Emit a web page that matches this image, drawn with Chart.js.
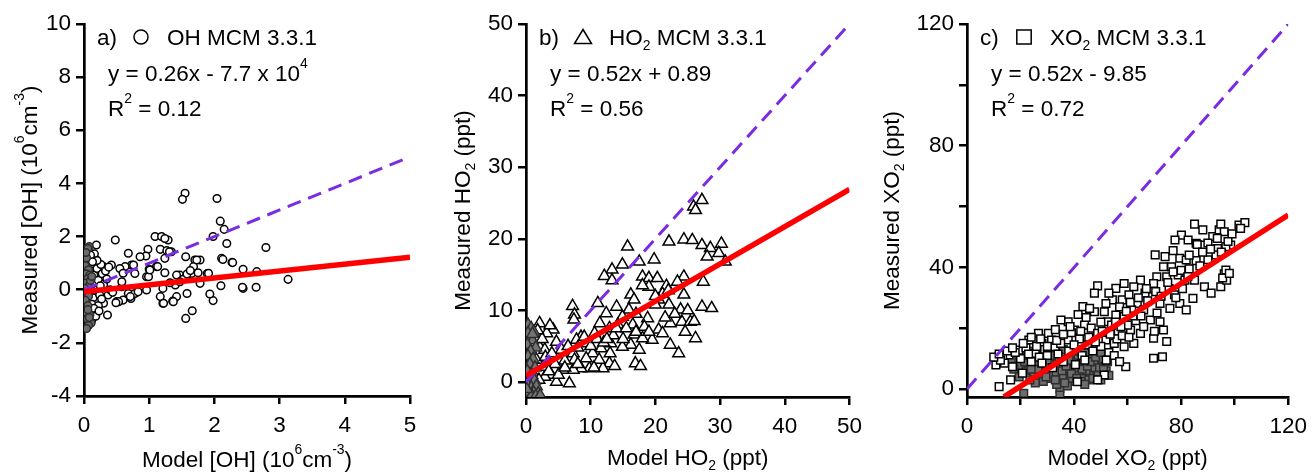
<!DOCTYPE html>
<html>
<head>
<meta charset="utf-8">
<script src="https://cdn.jsdelivr.net/npm/chart.js@4.4.0/dist/chart.umd.min.js"></script>
<style>
  body { margin: 0; background: #fff; }
  #wrap { position: relative; width: 1315px; height: 474px; overflow: hidden; }
  canvas { position: absolute; top: 0; }
</style>
</head>
<body>
<div id="wrap">
  <canvas id="chartA" width="430" height="474" style="left:0px"></canvas>
  <canvas id="chartB" width="440" height="474" style="left:430px"></canvas>
  <canvas id="chartC" width="445" height="474" style="left:870px"></canvas>
</div>
<script>
const FONT = '"Liberation Sans", Arial, sans-serif';
const FS = 22.5;
const PURPLE = '#7b2be2';

// ---- panel a: OH (10^6 cm^-3)
const ohXTicks = [0, 1, 2, 3, 4, 5];
const ohYTicks = [-4, -2, 0, 2, 4, 6, 8, 10];
const ohFit = [[0, -0.077], [5, 1.223]];
const ohOneToOne = [[0, 0], [5, 5]];
const ohOpen = [
  [0.48,1.87],[0.19,1.68],[0.68,1.37],[0.98,1.52],[1.09,2.0],[1.19,2.0],[1.29,1.87],[1.17,1.52],[1.27,1.47],[1.34,1.43],
  [1.55,3.63],[1.51,3.40],[2.04,3.43],[2.09,2.58],[2.15,2.27],[1.98,2.0],[2.19,1.74],[2.79,1.59],[3.13,0.39],[2.64,0.09],
  [2.44,0.05],[2.44,0.77],[2.65,0.68],[2.27,1.03],[2.11,1.18],[2.1,0.15],[1.98,-0.41],[1.93,-0.16],[1.89,0.61],[1.78,1.12],
  [1.7,1.12],[1.68,0.87],[1.56,1.24],[1.78,0.24],[1.58,-0.14],[1.66,-0.79],[1.56,-1.08],[1.42,-0.26],[1.36,-0.43],[1.21,-0.51],
  [1.17,-0.26],[1.21,0.05],[1.24,0.64],[1.4,0.18],[1.47,0.55],[1.57,0.51],[1.65,0.61],[1.11,0.87],[1.0,0.77],[0.96,0.49],
  [0.96,-0.01],[0.95,1.27],[0.86,1.24],[0.78,0.61],[0.73,0.93],[0.63,0.87],[0.68,-0.14],[0.72,-0.33],[0.6,-0.39],[0.5,-0.45],
  [0.78,-0.14],[0.83,-0.08],[0.58,0.11],[0.42,0.93],[0.55,0.8],[0.3,0.87],[0.3,-0.51],[0.36,-0.95],[0.37,-0.2],[0.25,0.49],
  [0.19,1.12],[0.14,0.87],[0.09,0.61],[0.17,0.11],[0.19,-0.39],[0.17,-0.89],[0.12,-1.14],[0.07,0.87],[0.08,0.24],[0.09,-0.14],
  [0.05,-0.51],[0.07,1.12],[1.13,0.87],[1.24,1.18],[1.73,1.12],[2.13,1.14],[2.28,1.02],[2.43,0.09],[1.37,-0.45],[1.22,-0.51],
  [0.99,0.49],[0.71,-0.26],[0.53,-0.45],[0.49,-0.49],[0.58,0.3],[0.6,0.62],[0.76,0.93],[1.01,0.74],[1.42,0.55],[1.52,0.39],
  [1.58,0.59],[1.63,0.72],[1.75,0.64],[1.91,0.62],[1.32,0.26],[1.47,0.3],[1.31,1.43],[1.24,1.93],
  [0.02,1.0],[0.04,0.8],[0.03,0.5],[0.06,0.3],[0.04,0.1],[0.02,-0.2],[0.05,-0.35],[0.03,-0.7],[0.06,-0.9],[0.1,0.95],
  [0.12,0.7],[0.11,0.4],[0.13,0.2],[0.1,-0.05],[0.14,-0.3],[0.12,-0.55],[0.1,-0.8],[0.15,0.55],[0.2,0.8],[0.22,0.35],
  [0.2,0.0],[0.24,-0.2],[0.22,-0.6],[0.18,-1.0],[0.26,0.95],[0.28,0.6],[0.3,0.2],[0.33,0.7],[0.35,0.4],[0.38,0.85],
  [0.4,0.0],[0.44,-0.1],[0.27,-0.35],[0.16,1.35],[0.1,1.3],[0.2,1.1],[0.15,-0.7],[0.23,-0.8],[0.13,1.05],[0.25,0.15]
];
const ohGray = [
  [0.08,1.62],[0.06,1.55],[0.04,1.2],[0.02,0.9],[0.07,0.75],[0.03,0.6],[0.09,0.55],[0.05,0.4],[0.02,0.25],[0.08,0.15],
  [0.04,-0.05],[0.07,-0.25],[0.02,-0.4],[0.06,-0.6],[0.03,-0.85],[0.09,-0.95],[0.05,-1.1],[0.11,-1.25],[0.07,-1.35],[0.04,-1.46],
  [0.1,0.35],[0.12,0.5],[0.01,0.05],[0.06,-0.75],[0.08,-1.05],[0.03,1.4]
];

// ---- panel b: HO2 (ppt)
const ho2XTicks = [0, 10, 20, 30, 40, 50];
const ho2YTicks = [0, 10, 20, 30, 40, 50];
const ho2Fit = [[0, 0.89], [50, 26.89]];
const ho2OneToOne = [[0, 0], [50, 50]];
const ho2Open = [
  [27.2,25.4],[25.9,24.5],[26.2,24.0],[15.7,18.9],[22.1,19.6],[24.4,19.9],[25.7,19.8],[27.2,19.1],[28.5,18.7],[30.2,19.3],
  [28.0,17.5],[29.8,18.0],[30.8,16.8],[17.5,16.8],[19.8,17.1],[14.9,16.4],[13.3,15.7],[12.1,14.8],[13.3,14.2],[18.0,14.7],
  [19.0,14.5],[20.3,14.5],[24.4,14.7],[23.4,14.0],[27.4,14.0],[21.7,13.4],[19.0,13.3],[18.0,13.5],[16.2,12.2],[16.7,11.5],
  [24.4,12.2],[21.1,12.3],[20.5,11.5],[11.1,11.0],[12.4,9.6],[7.2,10.6],[7.5,9.4],[7.4,8.7],[27.2,10.5],[28.7,10.3],
  [22.1,10.8],[23.9,10.1],[20.0,10.8],[15.9,10.1],[14.9,9.1],[18.8,8.9],[11.4,8.2],[12.9,7.5],[14.2,8.0],[16.5,8.0],
  [18.3,7.7],[22.3,8.2],[24.1,8.4],[25.4,8.4],[24.6,7.0],[26.2,6.1],[20.5,7.3],[21.1,6.8],[19.5,5.9],[22.3,5.2],
  [23.6,4.0],[16.7,6.6],[18.0,6.1],[16.2,5.2],[17.5,4.5],[16.9,2.6],[17.7,2.2],[14.9,4.9],[13.1,5.4],[11.6,4.7],
  [12.9,2.6],[13.7,2.2],[11.9,1.9],[9.8,1.9],[8.5,1.9],[7.3,1.7],[6.7,-0.2],[5.7,1.7],[4.7,0.0],[3.9,1.0],
  [2.9,0.7],[8.5,6.3],[9.3,5.4],[10.6,6.8],[7.8,5.9],[7.3,4.0],[7.5,3.1],[10.3,4.0],[4.7,5.6],[4.2,7.3],
  [3.2,6.8],[2.1,8.2],[3.7,7.9],[2.1,4.9],[2.9,4.5],[1.6,3.1],[2.7,2.1],[3.4,2.6],[5.5,4.5],[9.3,3.3],
  [11.3,3.1],[1.5,6.0],[2.5,6.0],[1.8,7.2],[3.0,3.5],[4.0,4.0],[4.5,2.5],[5.0,1.0],[6.0,3.0],[3.5,1.5],
  [1.2,1.0],[2.0,0.3],[6.5,5.0],[8.0,4.8],[9.0,6.3],[10.0,5.0],[11.0,6.0],[12.0,5.5],[13.5,6.5],[14.0,7.5],
  [15.0,6.0],[15.5,7.5],[17.0,7.0],[19.0,7.0],[21.5,9.0],[23.0,9.5],[25.0,10.0],[26.0,8.5],[20.0,12.0],[22.0,12.8],
  [17.0,9.5],[14.0,10.5],[12.5,6.0],[13.0,4.0],[10.5,2.0],[8.0,2.5],[6.0,2.0]
];
const ho2Gray = [
  [0.3,8.0],[0.8,7.5],[1.2,7.0],[0.5,6.3],[1.0,5.8],[0.2,5.2],[1.5,4.8],[0.7,4.3],[0.3,3.6],[1.1,3.2],
  [0.6,2.5],[1.4,2.0],[0.2,1.5],[0.9,1.0],[0.5,0.5],[1.3,0.2],[0.2,-0.3],[0.8,-0.8],[1.6,-0.6],[0.4,-1.4],
  [1.2,-1.5],[1.9,-1.6],[0.9,-1.9],[1.5,-2.0],[0.1,-1.0],[2.2,-1.9],[0.3,6.8],[1.0,6.7]
];

// ---- panel c: XO2 (ppt)
const xo2XTicks = [0, 20, 40, 60, 80, 100, 120];
const xo2YTicks = [0, 20, 40, 60, 80, 100, 120];
const xo2Labeled = [0, 40, 80, 120];
const xo2Fit = [[13.8, -2.6], [120, 57.2]];
const xo2OneToOne = [[0, 0], [120, 120]];
const xo2Open = [
  [85.0,54.2],[88.1,52.3],[80.1,50.6],[82.6,49.0],[77.7,49.0],[85.6,47.9],[88.7,47.3],[91.8,50.1],[94.2,52.3],[94.8,54.2],
  [96.1,51.7],[101.6,53.9],[103.8,54.7],[102.2,52.8],[98.5,47.3],[96.7,46.8],[93.6,46.2],[93.0,44.1],[70.3,44.1],[74.0,43.5],
  [79.5,43.0],[81.9,42.4],[85.6,42.2],[76.4,40.2],[73.4,40.2],[70.9,36.9],[74.6,36.9],[78.9,37.5],[81.4,35.8],[85.0,35.8],
  [88.7,33.6],[91.2,31.5],[94.8,33.6],[96.1,37.9],[97.0,35.8],[96.7,39.1],[84.4,29.8],[79.5,28.1],[81.9,26.0],[75.8,26.5],
  [72.1,28.1],[69.1,30.4],[69.7,34.7],[64.8,35.8],[62.3,33.6],[58.7,34.7],[55.6,33.1],[58.0,29.3],[54.3,29.3],[48.8,33.9],
  [47.6,31.5],[51.9,28.1],[47.6,25.4],[43.3,27.1],[45.8,26.5],[51.3,25.4],[55.6,24.3],[52.5,22.1],[58.7,23.8],[63.6,28.1],
  [66.0,26.0],[68.5,22.7],[72.1,22.1],[73.4,19.4],[69.7,16.7],[74.6,15.6],[69.7,10.1],[73.0,10.6],[59.3,7.3],[62.3,15.0],
  [64.8,18.3],[61.1,19.4],[58.7,13.9],[55.0,15.0],[37.8,22.1],[35.1,22.7],[30.4,18.3],[31.6,16.1],[26.7,18.3],[23.1,16.1],
  [28.0,15.0],[32.9,13.9],[40.2,19.4],[43.9,21.0],[46.4,20.0],[48.8,18.3],[51.9,16.1],[37.8,16.1],[19.4,12.8],[15.7,11.2],
  [10.8,7.9],[12.0,0.8],[13.3,10.6],[17.0,7.3],[20.7,5.2],[16.3,3.0],[25.5,11.7],[41.2,2.4],[51.3,4.6],[48.8,3.0],
  [77.0,45.5],[83.0,44.0],[87.0,40.5],[90.0,42.5],[75.5,33.0],[77.5,31.0],[66.5,31.5],[67.5,29.0],[60.5,31.0],[57.0,27.0],
  [53.0,31.5],[61.5,26.0],[63.0,22.5],[66.0,20.5],[70.0,19.0],[60.0,21.0],[56.5,19.0],[54.0,21.0],[50.0,22.0],[44.5,23.5],
  [41.5,24.5],[39.0,18.5],[42.0,16.5],[45.0,14.5],[47.0,12.5],[35.0,15.0],[33.0,19.5],[29.0,13.0],[26.0,14.0],[22.0,13.5],
  [20.0,10.0],[18.0,12.0],[14.0,8.5],[12.5,9.5],[24.0,9.0],[27.0,10.5],[30.0,11.0],[34.0,11.5],[38.0,12.5],[43.0,11.0],
  [50.0,14.0],[53.0,12.0],[56.0,16.5],[58.0,17.5],[62.0,24.0],[65.0,24.0],[71.0,25.0],[78.0,30.0],[80.0,39.0],[83.0,39.5],
  [86.0,47.5],[90.0,48.0],[93.5,49.5],[99.0,51.0],[95.5,36.5],[98.0,38.0],
  [10.0,10.5],[12.0,11.5],[15.0,12.5],[17.0,13.5],[21.0,15.0],[24.0,17.0],[27.5,16.5],[30.0,14.0],[33.5,16.0],[36.0,18.0],
  [38.5,20.5],[40.0,14.5],[42.5,19.0],[45.5,17.0],[48.0,15.5],[50.5,19.0],[53.5,18.0],[55.5,22.0],[57.5,20.5],[59.5,25.5],
  [61.0,28.5],[64.0,30.0],[67.0,33.0],[70.5,32.0],[72.5,30.5],[75.0,35.0],[77.0,38.5],[80.5,33.0],[82.5,37.0],[88.0,45.0],
  [91.0,46.0],[95.0,45.0],[97.5,48.5],[23.0,11.5],[28.0,8.5],[32.0,7.0],[36.0,9.0],[40.5,8.0],[44.0,9.5],[52.0,9.5],
  [55.0,11.0],[57.0,9.0],[60.5,17.0]
];
const xo2Gray = [
  [21.2,-1.4],[34.7,0.2],[34.7,-2.0],[18.0,9.5],[20.0,7.5],[22.0,6.0],[24.0,10.5],[25.0,4.5],[27.0,8.0],[28.0,5.5],
  [29.0,11.0],[30.0,7.0],[31.0,3.5],[32.0,9.0],[33.0,5.5],[34.0,12.5],[35.0,8.0],[36.0,4.0],[37.0,10.5],[38.0,6.5],
  [39.0,2.5],[40.0,9.0],[41.0,5.5],[42.0,12.0],[43.0,3.5],[44.0,8.0],[45.0,10.5],[46.0,4.5],[47.0,7.0],[48.0,12.5],
  [49.0,9.5],[50.0,5.5],[51.0,8.5],[52.0,11.0],[23.0,8.5],[26.0,11.5],[28.5,2.5],[31.5,12.0],[33.5,1.5],[36.5,11.5],
  [38.5,3.5],[40.5,7.0],[42.5,2.5],[44.5,6.0],[46.5,11.5],[48.5,4.0],[50.5,10.0],[19.0,11.0],[16.5,10.0],[25.5,2.0],
  [30.5,5.0],[35.5,6.0],[37.5,1.0],[39.5,11.5],[41.5,10.0],[43.5,13.0],[45.5,3.0],[47.5,9.0],[49.5,7.0],[52.0,6.0],
  [17.5,6.5],[19.5,4.0],[21.5,9.0],[23.5,3.0],[24.5,12.5],[26.5,6.5],[27.5,12.0],[29.5,4.0],[31.0,8.0],[32.5,11.0],
  [33.0,3.0],[34.5,9.5],[36.0,13.0],[37.0,7.5],[38.0,9.5],[39.0,5.0],[40.0,12.5],[41.0,3.5],[42.0,8.5],[43.0,6.5],
  [44.0,12.0],[45.0,7.5],[46.0,9.0],[47.0,3.5],[48.0,10.5],[49.0,4.5],[50.0,12.0],[51.0,6.5],[52.5,9.0],[53.0,4.5],
  [30.0,9.5],[28.0,10.0],[26.0,9.0],[24.0,6.5],[22.5,11.0],[20.5,12.0],[36.5,2.0],[44.0,1.5],[50.0,3.0]
];

// texts drawn by the plugin (parts: [text, 'sup' | 'sub'])
const panelText = {
  chartA: {
    tag: 'a)', marker: 'circle',
    title: [['OH MCM 3.3.1']],
    eq: [['y = 0.26x - 7.7 x 10'], ['4', 'sup']],
    r2: [['R'], ['2', 'sup'], [' = 0.12']],
    xTitle: [['Model [OH] (10'], ['6', 'sup'], ['cm'], ['-3', 'sup'], [')']],
    yTitle: [['Measured [OH] (10'], ['6', 'sup'], ['cm'], ['-3', 'sup'], [')']],
    xTitleY: 467, yTitleX: 37
  },
  chartB: {
    tag: 'b)', marker: 'triangle',
    title: [['HO'], ['2', 'sub'], [' MCM 3.3.1']],
    eq: [['y = 0.52x + 0.89']],
    r2: [['R'], ['2', 'sup'], [' = 0.56']],
    xTitle: [['Model HO'], ['2', 'sub'], [' (ppt)']],
    yTitle: [['Measured HO'], ['2', 'sub'], [' (ppt)']],
    xTitleY: 465, yTitleX: 40
  },
  chartC: {
    tag: 'c)', marker: 'square',
    title: [['XO'], ['2', 'sub'], [' MCM 3.3.1']],
    eq: [['y = 0.52x - 9.85']],
    r2: [['R'], ['2', 'sup'], [' = 0.72']],
    xTitle: [['Model XO'], ['2', 'sub'], [' (ppt)']],
    yTitle: [['Measured XO'], ['2', 'sub'], [' (ppt)']],
    xTitleY: 465, yTitleX: 29
  }
};

const pts = arr => arr.map(([x, y]) => ({ x, y }));

function richText(ctx, parts, x, y, align) {
  const small = FS * 0.62;
  const widths = parts.map(([t, m]) => {
    ctx.font = (m ? small : FS) + 'px ' + FONT;
    return ctx.measureText(t).width;
  });
  const total = widths.reduce((a, b) => a + b, 0);
  let cx = align === 'center' ? x - total / 2 : x;
  parts.forEach(([t, m], i) => {
    ctx.font = (m ? small : FS) + 'px ' + FONT;
    const dy = m === 'sup' ? -FS * 0.6 : m === 'sub' ? FS * 0.22 : 0;
    ctx.fillText(t, cx, y + dy);
    cx += widths[i];
  });
}

function drawMarker(ctx, kind, x, y) {
  ctx.beginPath();
  if (kind === 'circle') {
    ctx.arc(x, y, 7, 0, Math.PI * 2);
  } else if (kind === 'triangle') {
    ctx.moveTo(x, y - 7.5);
    ctx.lineTo(x + 8.5, y + 6.5);
    ctx.lineTo(x - 8.5, y + 6.5);
    ctx.closePath();
  } else {
    ctx.rect(x - 7.2, y - 7, 14.4, 14);
  }
  ctx.fillStyle = '#fff';
  ctx.fill();
  ctx.lineWidth = 1.5;
  ctx.strokeStyle = '#000';
  ctx.stroke();
}

const textPlugin = {
  id: 'panelText',
  afterDraw(chart) {
    const p = panelText[chart.canvas.id];
    const { ctx, chartArea: a } = chart;
    ctx.save();
    ctx.fillStyle = '#000';
    ctx.textBaseline = 'alphabetic';
    richText(ctx, [[p.tag]], a.left + 13, a.top + 21, 'left');
    drawMarker(ctx, p.marker, a.left + 57, a.top + 13);
    ctx.fillStyle = '#000';
    richText(ctx, p.title, a.left + 83, a.top + 21, 'left');
    richText(ctx, p.eq, a.left + 24, a.top + 57, 'left');
    richText(ctx, p.r2, a.left + 24, a.top + 92, 'left');
    richText(ctx, p.xTitle, (a.left + a.right) / 2, p.xTitleY, 'center');
    ctx.translate(p.yTitleX, (a.top + a.bottom) / 2);
    ctx.rotate(-Math.PI / 2);
    richText(ctx, p.yTitle, 0, 0, 'center');
    ctx.restore();
  }
};

function axis(min, max, tickVals, fitSize, isX, labeled) {
  return {
    type: 'linear',
    min, max,
    afterBuildTicks: s => { s.ticks = tickVals.map(v => ({ value: v })); },
    afterFit: s => { if (isX) s.height = fitSize; else s.width = fitSize; },
    grid: { display: true, drawOnChartArea: false, drawTicks: true, tickLength: 8, lineWidth: 2.5, color: '#000' },
    border: { display: true, width: 2.7, color: '#000' },
    ticks: {
      color: '#000',
      padding: isX ? 8 : 5,
      font: { family: FONT, size: FS },
      callback: v => (!labeled || labeled.includes(v)) ? String(v) : ''
    }
  };
}

function makeChart(id, cfg) {
  new Chart(document.getElementById(id), {
    type: 'scatter',
    data: {
      datasets: [
        { data: pts(cfg.fit), showLine: true, borderColor: '#ff0000', borderWidth: 5.5, pointRadius: 0, order: 0 },
        { data: pts(cfg.oneToOne), showLine: true, borderColor: PURPLE, borderWidth: 3, borderDash: [14, 8], pointRadius: 0, order: 1 },
        { data: pts(cfg.gray), pointStyle: cfg.style, pointRadius: cfg.radius, pointBackgroundColor: cfg.grayFill,
          pointBorderColor: '#2e2e2e', pointBorderWidth: 1.5, order: cfg.grayOrder },
        { data: pts(cfg.open), pointStyle: cfg.style, pointRadius: cfg.radius, pointBackgroundColor: '#fff',
          pointBorderColor: '#000', pointBorderWidth: 1.5, order: 5 - cfg.grayOrder }
      ]
    },
    options: {
      responsive: false,
      animation: false,
      events: [],
      layout: { padding: { left: 0, top: 24, right: cfg.padR, bottom: 0 } },
      plugins: { legend: { display: false }, tooltip: { enabled: false } },
      scales: {
        x: axis(cfg.xMin, cfg.xMax, cfg.xTicks, cfg.xAxisH, true, cfg.labeled),
        y: axis(cfg.yMin, cfg.yMax, cfg.yTicks, cfg.yAxisW, false, cfg.labeled)
      }
    },
    plugins: [textPlugin]
  });
}

makeChart('chartA', {
  fit: ohFit, oneToOne: ohOneToOne, gray: ohGray, open: ohOpen,
  style: 'circle', radius: 3.8, grayFill: '#6b6b6b', grayOrder: 2,
  xMin: 0, xMax: 5, yMin: -4, yMax: 10, xTicks: ohXTicks, yTicks: ohYTicks,
  padR: 20, xAxisH: 78, yAxisW: 84
});
makeChart('chartB', {
  fit: ho2Fit, oneToOne: ho2OneToOne, gray: ho2Gray, open: ho2Open,
  style: 'triangle', radius: 6.8, grayFill: '#737373', grayOrder: 2,
  xMin: 0, xMax: 50, yMin: -2.1, yMax: 50, xTicks: ho2XTicks, yTicks: ho2YTicks,
  padR: 18, xAxisH: 77, yAxisW: 96
});
makeChart('chartC', {
  fit: xo2Fit, oneToOne: xo2OneToOne, gray: xo2Gray, open: xo2Open,
  style: 'rect', radius: 5.4, grayFill: '#6e6e6e', grayOrder: 3,
  xMin: 0, xMax: 120, yMin: -2.63, yMax: 120, xTicks: xo2XTicks, yTicks: xo2YTicks, labeled: xo2Labeled,
  padR: 22, xAxisH: 77, yAxisW: 97
});
</script>
</body>
</html>
